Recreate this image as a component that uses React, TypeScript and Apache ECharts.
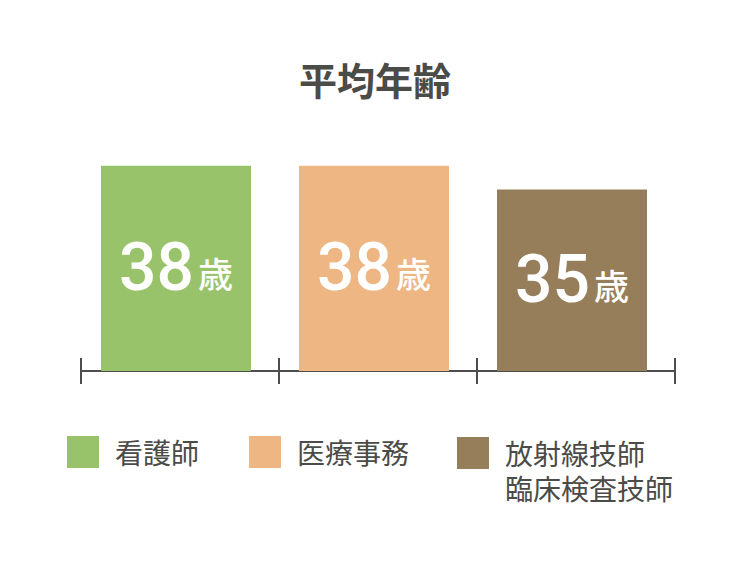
import { useEffect, useRef } from "react";
import * as echarts from "echarts";

const categories = ["看護師", "医療事務", "放射線技師\n臨床検査技師"];
const ages = [38, 38, 35];
const barColors = ["#99C36B", "#EDB683", "#977E5A"];
const title = "平均年齢";
const unit = "歳";

const textColor = "#4B4B47";
const axisColor = "#4D4D4D";
const cjkFont = '"Noto Sans CJK JP", sans-serif';

export default function App() {
  const chartRef = useRef<HTMLDivElement | null>(null);

  useEffect(() => {
    if (!chartRef.current) return;
    const chart = echarts.init(chartRef.current, undefined, { renderer: "svg" });

    const legendPos = [
      { left: 67, top: 436 },
      { left: 249, top: 436 },
      { left: 457, top: 404 },
    ];

    // grid 0 holds the bars, grid 1 holds the tick axis (slightly offset as in the original)
    const tickAxes = [0, 1].map((i) => ({
      type: "category",
      gridIndex: 1,
      data: categories,
      position: "bottom",
      axisLine: { show: true, lineStyle: { color: axisColor, width: 2 } },
      axisTick: { show: true, inside: i === 1, length: 13, lineStyle: { color: axisColor, width: 2 } },
      axisLabel: { show: false },
    }));

    chart.setOption({
      animation: false,
      backgroundColor: "#ffffff",
      title: {
        text: title,
        left: "center",
        top: 54,
        textStyle: { fontFamily: cjkFont, fontSize: 38, fontWeight: "bold", color: textColor },
      },
      grid: [
        { left: 77, right: 79, top: 150, bottom: 191 },
        { left: 81, right: 75, top: 150, bottom: 191 },
      ],
      xAxis: [
        {
          type: "category",
          gridIndex: 0,
          data: categories,
          axisLine: { show: false },
          axisTick: { show: false },
          axisLabel: { show: false },
        },
        ...tickAxes,
      ],
      yAxis: [
        { type: "value", gridIndex: 0, min: 12, max: 40, show: false, splitLine: { show: false } },
        { type: "value", gridIndex: 1, min: 12, max: 40, show: false, splitLine: { show: false } },
      ],
      legend: categories.map((name, i) => ({
        data: [name],
        ...legendPos[i],
        orient: "horizontal",
        padding: 0,
        icon: "rect",
        itemWidth: 32,
        itemHeight: 32,
        selectedMode: false,
        formatter: (n: string) =>
          n.includes("\n") ? "{e|　}\n" + n.split("\n").map((s) => `{t|${s}}`).join("\n") : n,
        textStyle: {
          fontFamily: cjkFont,
          fontSize: 28,
          color: textColor,
          padding: [0, 0, 0, 11],
          rich: {
            e: { fontFamily: cjkFont, fontSize: 28, lineHeight: 35, color: textColor },
            t: { fontFamily: cjkFont, fontSize: 28, lineHeight: 35, color: textColor },
          },
        },
      })),
      series: categories.map((name, i) => ({
        name,
        type: "bar",
        xAxisIndex: 0,
        yAxisIndex: 0,
        barWidth: 150,
        barGap: "-100%",
        itemStyle: { color: barColors[i] },
        data: ages.map((v, j) => (j === i ? v : "-")),
        label: {
          show: true,
          position: "inside",
          offset: [0, -3],
          formatter: (p: any) => `{a|${p.value}}{b|${unit}}`,
          rich: {
            a: {
              fontFamily: "Roboto",
              fontSize: 66,
              fontWeight: 500,
              color: "#fff",
              lineHeight: 70,
              verticalAlign: "bottom",
            },
            b: {
              fontFamily: cjkFont,
              fontSize: 35,
              fontWeight: 500,
              color: "#fff",
              lineHeight: 70,
              verticalAlign: "bottom",
              padding: [0, 0, 10, 4],
            },
          },
        },
      })),
    });

    return () => chart.dispose();
  }, []);

  return (
    <div
      ref={chartRef}
      style={{ position: "fixed", left: 0, top: 0, width: 750, height: 562 }}
    />
  );
}
